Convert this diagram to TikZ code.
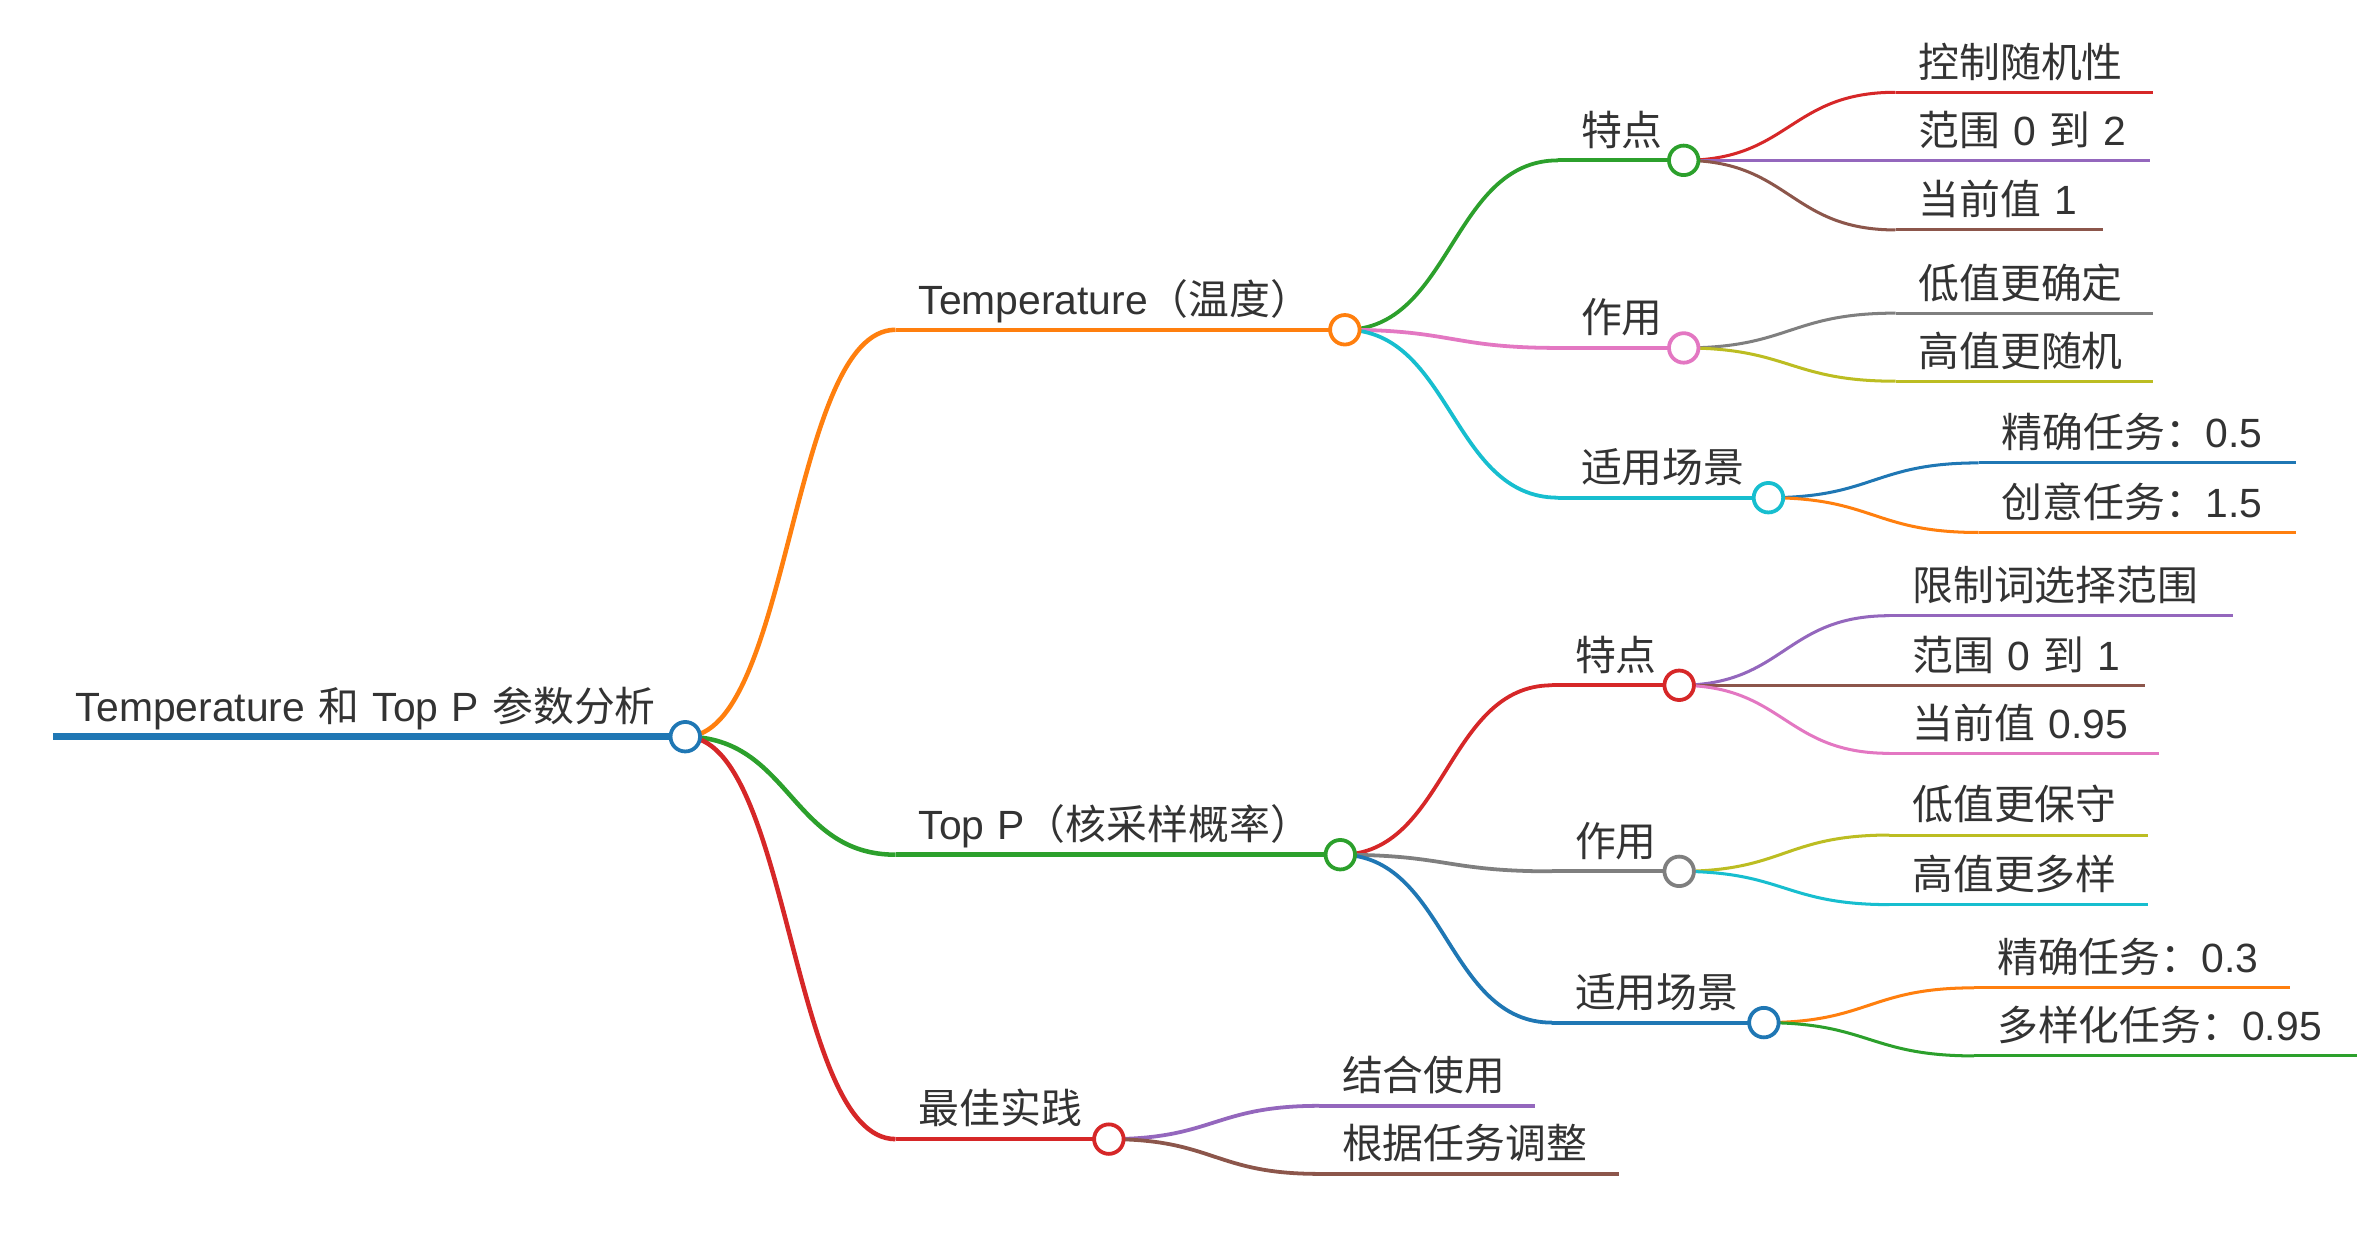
\documentclass[tikz,border=0pt]{standalone}
\usepackage{fontspec}
\setmainfont{Liberation Sans}
\newfontfamily\cjkfont{Noto Sans CJK SC}
\usetikzlibrary{calc}
\pgfdeclarelayer{bg}
\pgfsetlayers{bg,main}
\newcommand\zh[1]{{\cjkfont #1}}
\newcommand\mmfont{\fontsize{27}{32}\selectfont\spaceskip 8.8pt\relax}
\definecolor{cblue}{HTML}{1F77B4}
\definecolor{corange}{HTML}{FF7F0E}
\definecolor{cgreen}{HTML}{2CA02C}
\definecolor{cred}{HTML}{D62728}
\definecolor{cpurple}{HTML}{9467BD}
\definecolor{cbrown}{HTML}{8C564B}
\definecolor{cpink}{HTML}{E377C2}
\definecolor{cgray}{HTML}{7F7F7F}
\definecolor{colive}{HTML}{BCBD22}
\definecolor{ccyan}{HTML}{17BECF}
\definecolor{txt}{HTML}{333333}
\tikzset{
  mmtext/.style={anchor=base west, inner sep=0pt, text=txt, font=\mmfont},
  mmdot/.style={circle, draw=#1, fill=white, minimum size=19.5, inner sep=0pt, line width=2.5},
  lw0/.style={line width=4.5},
  lw1/.style={line width=3},
  lw2/.style={line width=2.5},
  lw3/.style={line width=2},
}
\newcommand\mmlink[3]{\draw[#1] let \p1=(#2.center),\p2=(#3) in (\p1) .. controls ({(\x1+\x2)/2},\y1) and ({(\x1+\x2)/2},\y2) .. (\p2);}
\begin{document}
\begin{tikzpicture}[x=1pt,y=-1pt]
\useasboundingbox (0,0) rectangle (1568,826.3);
% ---------- root ----------
\coordinate (root-s) at (35,487);
\node[mmtext] (t-root) at (50,477) {Temperature \zh{和} Top P \zh{参数分析}};
\node[mmdot=cblue] (root) at (453,487) {};
% ---------- level 1 ----------
\coordinate (temp-s) at (592,218);
\node[mmtext] (t-temp) at (607,208) {Temperature\zh{（温度）}};
\node[mmdot=corange] (temp) at (889,218) {};
\coordinate (topp-s) at (592,565);
\node[mmtext] (t-topp) at (607,555) {Top P\zh{（核采样概率）}};
\node[mmdot=cgreen] (topp) at (886,565) {};
\coordinate (best-s) at (592,753);
\node[mmtext] (t-best) at (607,743) {\zh{最佳实践}};
\node[mmdot=cred] (best) at (733,753) {};
% ---------- level 2 : Temperature ----------
\coordinate (tf-s) at (1030,106);
\node[mmtext] (t-tf) at (1045,96) {\zh{特点}};
\node[mmdot=cgreen] (tf) at (1113,106) {};
\coordinate (tz-s) at (1030,230);
\node[mmtext] (t-tz) at (1045,220) {\zh{作用}};
\node[mmdot=cpink] (tz) at (1113,230) {};
\coordinate (ts-s) at (1030,329);
\node[mmtext] (t-ts) at (1045,319) {\zh{适用场景}};
\node[mmdot=ccyan] (ts) at (1169,329) {};
% ---------- level 2 : Top P ----------
\coordinate (pf-s) at (1026,453);
\node[mmtext] (t-pf) at (1041,443) {\zh{特点}};
\node[mmdot=cred] (pf) at (1110,453) {};
\coordinate (pz-s) at (1026,576);
\node[mmtext] (t-pz) at (1041,566) {\zh{作用}};
\node[mmdot=cgray] (pz) at (1110,576) {};
\coordinate (ps-s) at (1026,676);
\node[mmtext] (t-ps) at (1041,666) {\zh{适用场景}};
\node[mmdot=cblue] (ps) at (1166,676) {};
% ---------- level 2 : best practice (leaves) ----------
\coordinate (b1-s) at (872,731);
\node[mmtext] (t-b1) at (887,721) {\zh{结合使用}};
\coordinate (b1-e) at (1015,731);
\coordinate (b2-s) at (872,776);
\node[mmtext] (t-b2) at (887,766) {\zh{根据任务调整}};
\coordinate (b2-e) at (1070,776);
% ---------- level 3 : Temperature ----------
\coordinate (tf1-s) at (1253,61);  \coordinate (tf1-e) at (1423,61);
\node[mmtext] (t-tf1) at (1268,51) {\zh{控制随机性}};
\coordinate (tf2-s) at (1253,106); \coordinate (tf2-e) at (1421,106);
\node[mmtext] (t-tf2) at (1268,96) {\zh{范围} 0 \zh{到} 2};
\coordinate (tf3-s) at (1253,152); \coordinate (tf3-e) at (1390,152);
\node[mmtext] (t-tf3) at (1268,142) {\zh{当前值} 1};
\coordinate (tz1-s) at (1253,207); \coordinate (tz1-e) at (1423,207);
\node[mmtext] (t-tz1) at (1268,197) {\zh{低值更确定}};
\coordinate (tz2-s) at (1253,252); \coordinate (tz2-e) at (1423,252);
\node[mmtext] (t-tz2) at (1268,242) {\zh{高值更随机}};
\coordinate (ts1-s) at (1308,306); \coordinate (ts1-e) at (1518,306);
\node[mmtext] (t-ts1) at (1323,296) {\zh{精确任务：}0.5};
\coordinate (ts2-s) at (1308,352); \coordinate (ts2-e) at (1518,352);
\node[mmtext] (t-ts2) at (1323,342) {\zh{创意任务：}1.5};
% ---------- level 3 : Top P ----------
\coordinate (pf1-s) at (1249,407); \coordinate (pf1-e) at (1476,407);
\node[mmtext] (t-pf1) at (1264,397) {\zh{限制词选择范围}};
\coordinate (pf2-s) at (1249,453); \coordinate (pf2-e) at (1418,453);
\node[mmtext] (t-pf2) at (1264,443) {\zh{范围} 0 \zh{到} 1};
\coordinate (pf3-s) at (1249,498); \coordinate (pf3-e) at (1427,498);
\node[mmtext] (t-pf3) at (1264,488) {\zh{当前值} 0.95};
\coordinate (pz1-s) at (1249,552); \coordinate (pz1-e) at (1420,552);
\node[mmtext] (t-pz1) at (1264,542) {\zh{低值更保守}};
\coordinate (pz2-s) at (1249,598); \coordinate (pz2-e) at (1420,598);
\node[mmtext] (t-pz2) at (1264,588) {\zh{高值更多样}};
\coordinate (ps1-s) at (1305,653); \coordinate (ps1-e) at (1514,653);
\node[mmtext] (t-ps1) at (1320,643) {\zh{精确任务：}0.3};
\coordinate (ps2-s) at (1305,698); \coordinate (ps2-e) at (1558,698);
\node[mmtext] (t-ps2) at (1320,688) {\zh{多样化任务：}0.95};
% ---------- lines and links ----------
\begin{pgfonlayer}{bg}
\draw[cblue,lw0] (root-s) -- (root.center);
% level 1
\mmlink{corange,lw1}{root}{temp-s} \draw[corange,lw1] (temp-s) -- (temp.center);
\mmlink{cgreen,lw1}{root}{topp-s}  \draw[cgreen,lw1] (topp-s) -- (topp.center);
\mmlink{cred,lw1}{root}{best-s}    \draw[cred,lw1] (best-s) -- (best.center);
% level 2
\mmlink{cgreen,lw2}{temp}{tf-s} \draw[cgreen,lw2] (tf-s) -- (tf.center);
\mmlink{cpink,lw2}{temp}{tz-s}  \draw[cpink,lw2] (tz-s) -- (tz.center);
\mmlink{ccyan,lw2}{temp}{ts-s}  \draw[ccyan,lw2] (ts-s) -- (ts.center);
\mmlink{cred,lw2}{topp}{pf-s}   \draw[cred,lw2] (pf-s) -- (pf.center);
\mmlink{cgray,lw2}{topp}{pz-s}  \draw[cgray,lw2] (pz-s) -- (pz.center);
\mmlink{cblue,lw2}{topp}{ps-s}  \draw[cblue,lw2] (ps-s) -- (ps.center);
\mmlink{cpurple,lw2}{best}{b1-s} \draw[cpurple,lw2] (b1-s) -- (b1-e);
\mmlink{cbrown,lw2}{best}{b2-s}  \draw[cbrown,lw2] (b2-s) -- (b2-e);
% level 3
\mmlink{cred,lw3}{tf}{tf1-s}    \draw[cred,lw3] (tf1-s) -- (tf1-e);
\mmlink{cpurple,lw3}{tf}{tf2-s} \draw[cpurple,lw3] (tf2-s) -- (tf2-e);
\mmlink{cbrown,lw3}{tf}{tf3-s}  \draw[cbrown,lw3] (tf3-s) -- (tf3-e);
\mmlink{cgray,lw3}{tz}{tz1-s}   \draw[cgray,lw3] (tz1-s) -- (tz1-e);
\mmlink{colive,lw3}{tz}{tz2-s}  \draw[colive,lw3] (tz2-s) -- (tz2-e);
\mmlink{cblue,lw3}{ts}{ts1-s}   \draw[cblue,lw3] (ts1-s) -- (ts1-e);
\mmlink{corange,lw3}{ts}{ts2-s} \draw[corange,lw3] (ts2-s) -- (ts2-e);
\mmlink{cpurple,lw3}{pf}{pf1-s} \draw[cpurple,lw3] (pf1-s) -- (pf1-e);
\mmlink{cbrown,lw3}{pf}{pf2-s}  \draw[cbrown,lw3] (pf2-s) -- (pf2-e);
\mmlink{cpink,lw3}{pf}{pf3-s}   \draw[cpink,lw3] (pf3-s) -- (pf3-e);
\mmlink{colive,lw3}{pz}{pz1-s}  \draw[colive,lw3] (pz1-s) -- (pz1-e);
\mmlink{ccyan,lw3}{pz}{pz2-s}   \draw[ccyan,lw3] (pz2-s) -- (pz2-e);
\mmlink{corange,lw3}{ps}{ps1-s} \draw[corange,lw3] (ps1-s) -- (ps1-e);
\mmlink{cgreen,lw3}{ps}{ps2-s}  \draw[cgreen,lw3] (ps2-s) -- (ps2-e);
\end{pgfonlayer}
\end{tikzpicture}
\end{document}
